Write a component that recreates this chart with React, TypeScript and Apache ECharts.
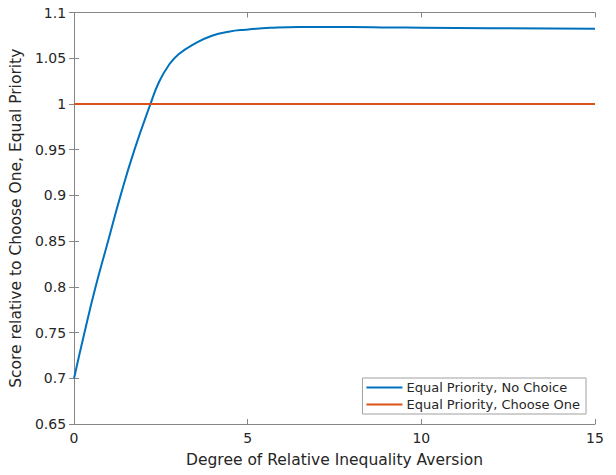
import React, { useEffect, useRef } from "react";
import * as echarts from "echarts";

const xNoChoice = [0, 0.3, 0.62, 0.98, 1.34, 1.74, 2.2, 2.44, 2.73, 3.01, 3.49, 3.97, 4.45, 4.93, 5.65, 6.5, 8, 9.1, 10, 12, 15];
const yNoChoice = [0.7, 0.75, 0.8, 0.85, 0.9, 0.95, 1.0, 1.0235, 1.0426, 1.0543, 1.0663, 1.0746, 1.079, 1.0812, 1.0832, 1.0842, 1.0841, 1.0836, 1.0834, 1.0828, 1.0821];
const xChooseOne = [0, 15];
const yChooseOne = [1, 1];
const seriesNames = ["Equal Priority, No Choice", "Equal Priority, Choose One"];

const FONT = "DejaVu Sans";
const TXT = "#262626";
const AX = "#868686";

export default function App() {
  const ref = useRef<HTMLDivElement>(null);
  useEffect(() => {
    const chart = echarts.init(ref.current!, null, { renderer: "svg" });
    const fmt = (v: number) => parseFloat(v.toFixed(2)).toString();
    const common = {
      type: "value" as const,
      axisLine: { show: true, lineStyle: { color: AX, width: 1 } },
      axisTick: { show: true, inside: true, length: 5, lineStyle: { color: AX } },
      splitLine: { show: false },
    };
    chart.setOption({
      animation: false,
      grid: { left: 73.5, right: 21, top: 12.5, bottom: 51, containLabel: false },
      xAxis: [
        {
          ...common,
          min: 0, max: 15, interval: 5, position: "bottom",
          axisLabel: { color: TXT, fontFamily: FONT, fontSize: 14, margin: 7, formatter: fmt },
          name: "Degree of Relative Inequality Aversion",
          nameLocation: "middle", nameGap: 28,
          nameTextStyle: { color: TXT, fontFamily: FONT, fontSize: 15.5 },
        },
        { ...common, min: 0, max: 15, interval: 5, position: "top", axisLabel: { show: false } },
      ],
      yAxis: [
        {
          ...common,
          min: 0.65, max: 1.1, interval: 0.05, position: "left",
          axisLabel: { color: TXT, fontFamily: FONT, fontSize: 14, margin: 8, formatter: fmt },
          name: "Score relative to Choose One, Equal Priority",
          nameLocation: "middle", nameGap: 48,
          nameTextStyle: { color: TXT, fontFamily: FONT, fontSize: 15.5 },
        },
        { ...common, min: 0.65, max: 1.1, interval: 0.05, position: "right", axisLabel: { show: false } },
      ],
      legend: {
        orient: "vertical",
        right: 30,
        bottom: 61,
        backgroundColor: "#ffffff",
        borderColor: "#a0a0a0",
        borderWidth: 1,
        padding: [3, 6, 3, 4],
        itemGap: 4,
        itemWidth: 36,
        itemHeight: 2,
        icon: "rect",
        textStyle: { color: TXT, fontFamily: FONT, fontSize: 13, padding: [0, 0, 0, -1] },
        data: seriesNames,
      },
      series: [
        {
          name: seriesNames[0],
          type: "line",
          smooth: 0.5,
          symbol: "none",
          data: xNoChoice.map((x, i) => [x, yNoChoice[i]]),
          lineStyle: { color: "#0072BD", width: 2 },
          itemStyle: { color: "#0072BD" },
        },
        {
          name: seriesNames[1],
          type: "line",
          symbol: "none",
          data: xChooseOne.map((x, i) => [x, yChooseOne[i]]),
          lineStyle: { color: "#D95319", width: 2 },
          itemStyle: { color: "#D95319" },
        },
      ],
    });
    return () => chart.dispose();
  }, []);
  return <div ref={ref} style={{ width: 616, height: 475, position: "absolute", left: 0, top: 0, background: "#fff" }} />;
}
